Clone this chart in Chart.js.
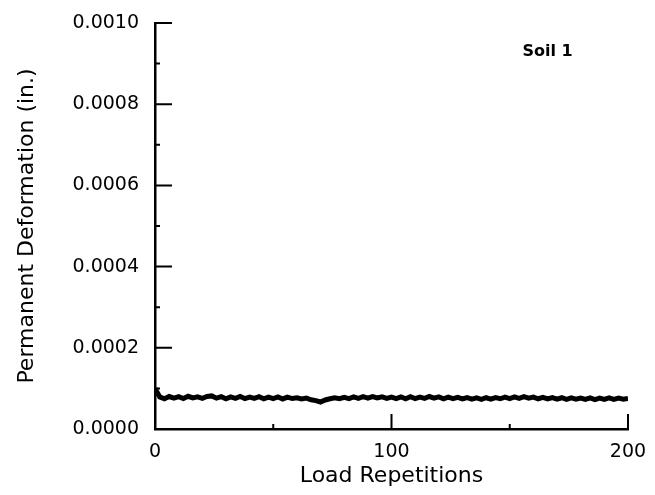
<!DOCTYPE html>
<html>
<head>
<meta charset="utf-8">
<script src="https://cdn.jsdelivr.net/npm/chart.js@4"></script>
<style>
  html, body { margin: 0; padding: 0; background: #fff; }
  #wrap { width: 655px; height: 495px; }
</style>
</head>
<body>
<div id="wrap"><canvas id="chart" width="655" height="495"></canvas></div>
<script>
// load repetitions (x) and permanent deformation in inches (y)
const cycles = [
  0, 2, 4, 6, 8, 10, 12, 14, 16, 18, 20, 22, 24, 26, 28, 30, 32, 34, 36, 38,
  40, 42, 44, 46, 48, 50, 52, 54, 56, 58, 60, 62, 64, 66, 68, 70, 72, 74, 76, 78,
  80, 82, 84, 86, 88, 90, 92, 94, 96, 98, 100, 102, 104, 106, 108, 110, 112, 114, 116, 118,
  120, 122, 124, 126, 128, 130, 132, 134, 136, 138, 140, 142, 144, 146, 148, 150, 152, 154, 156, 158,
  160, 162, 164, 166, 168, 170, 172, 174, 176, 178, 180, 182, 184, 186, 188, 190, 192, 194, 196, 198, 200
];
const deformation = [
  0.0001000, 0.0000790, 0.0000745, 0.0000800, 0.0000760, 0.0000795, 0.0000750, 0.0000805, 0.0000765, 0.0000790,
  0.0000755, 0.0000800, 0.0000815, 0.0000760, 0.0000795, 0.0000745, 0.0000790, 0.0000755, 0.0000800, 0.0000750,
  0.0000785, 0.0000755, 0.0000795, 0.0000745, 0.0000785, 0.0000750, 0.0000790, 0.0000740, 0.0000785, 0.0000750,
  0.0000770, 0.0000740, 0.0000760, 0.0000720, 0.0000700, 0.0000665, 0.0000715, 0.0000745, 0.0000770, 0.0000745,
  0.0000780, 0.0000750, 0.0000790, 0.0000755, 0.0000795, 0.0000760, 0.0000800, 0.0000765, 0.0000790, 0.0000755,
  0.0000785, 0.0000750, 0.0000790, 0.0000745, 0.0000795, 0.0000750, 0.0000785, 0.0000755, 0.0000800, 0.0000760,
  0.0000790, 0.0000745, 0.0000785, 0.0000750, 0.0000780, 0.0000740, 0.0000775, 0.0000735, 0.0000765, 0.0000730,
  0.0000770, 0.0000735, 0.0000775, 0.0000745, 0.0000785, 0.0000750, 0.0000790, 0.0000755, 0.0000795, 0.0000760,
  0.0000785, 0.0000745, 0.0000780, 0.0000740, 0.0000775, 0.0000735, 0.0000770, 0.0000730, 0.0000765, 0.0000735,
  0.0000760, 0.0000730, 0.0000765, 0.0000725, 0.0000760, 0.0000730, 0.0000765, 0.0000730, 0.0000760, 0.0000735,
  0.0000755
];

const xMajor = [0, 100, 200];
const xMinor = [50, 150];
const yMajor = [0, 0.0002, 0.0004, 0.0006, 0.0008, 0.0010];
const yMinor = [0.0001, 0.0003, 0.0005, 0.0007, 0.0009];

const soilLabel = "Soil 1";
const xTitle = "Load Repetitions";
const yTitle = "Permanent Deformation (in.)";

const fontFam = "'DejaVu Sans', sans-serif";

// ticks point into the plot, so draw them ourselves off the scales
const insideTicks = {
  id: "insideTicks",
  afterDraw(chart) {
    const ctx = chart.ctx;
    const xs = chart.scales.x;
    const ys = chart.scales.y;
    const area = chart.chartArea;
    ctx.save();
    ctx.strokeStyle = "#000";
    ctx.lineWidth = 2;
    ctx.beginPath();
    yMajor.forEach(v => {
      const py = ys.getPixelForValue(v);
      ctx.moveTo(area.left, py);
      ctx.lineTo(area.left + 17, py);
    });
    yMinor.forEach(v => {
      const py = ys.getPixelForValue(v);
      ctx.moveTo(area.left, py);
      ctx.lineTo(area.left + 5, py);
    });
    xMajor.forEach(v => {
      const px = xs.getPixelForValue(v);
      ctx.moveTo(px, area.bottom);
      ctx.lineTo(px, area.bottom - 15);
    });
    xMinor.forEach(v => {
      const px = xs.getPixelForValue(v);
      ctx.moveTo(px, area.bottom);
      ctx.lineTo(px, area.bottom - 5);
    });
    ctx.stroke();

    ctx.fillStyle = "#000";
    ctx.font = "bold 16px " + fontFam;
    ctx.textAlign = "center";
    ctx.textBaseline = "middle";
    ctx.fillText(soilLabel, xs.getPixelForValue(166), ys.getPixelForValue(0.00093));
    ctx.restore();
  }
};

new Chart(document.getElementById("chart"), {
  type: "line",
  data: {
    labels: cycles,
    datasets: [{
      data: deformation,
      borderColor: "#000",
      borderWidth: 5,
      pointRadius: 0,
      tension: 0,
      fill: false
    }]
  },
  options: {
    responsive: false,
    animation: false,
    layout: { padding: { top: 23, right: 27, left: 14, bottom: 6 } },
    plugins: { legend: { display: false }, tooltip: { enabled: false } },
    scales: {
      x: {
        type: "linear",
        min: 0,
        max: 200,
        afterFit(s) {
          s.height = 60;
          s.paddingLeft = 0;
          s.paddingRight = 0;
        },
        afterBuildTicks(s) { s.ticks = xMajor.map(v => ({ value: v })); },
        grid: { display: true, drawOnChartArea: false, drawTicks: false },
        border: { color: "#000", width: 2.5 },
        ticks: {
          color: "#000",
          padding: 12,
          maxRotation: 0,
          font: { family: fontFam, size: 19 }
        },
        title: {
          display: true,
          text: xTitle,
          color: "#000",
          padding: { top: 0, bottom: 0 },
          font: { family: fontFam, size: 22 }
        }
      },
      y: {
        type: "linear",
        min: 0,
        max: 0.001,
        afterFit(s) {
          s.width = 141;
          s.paddingTop = 0;
          s.paddingBottom = 0;
        },
        afterBuildTicks(s) { s.ticks = yMajor.map(v => ({ value: v })); },
        grid: { display: true, drawOnChartArea: false, drawTicks: false },
        border: { color: "#000", width: 2.5 },
        ticks: {
          color: "#000",
          padding: 16,
          font: { family: fontFam, size: 19 },
          callback: v => v.toFixed(4)
        },
        title: {
          display: true,
          text: yTitle,
          color: "#000",
          padding: { top: 0, bottom: 8 },
          font: { family: fontFam, size: 22 }
        }
      }
    }
  },
  plugins: [insideTicks]
});
</script>
</body>
</html>
